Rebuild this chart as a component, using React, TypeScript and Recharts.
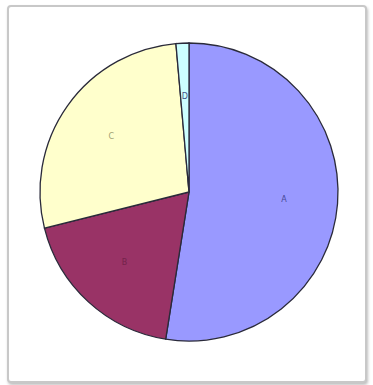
import { PieChart, Pie, Cell } from "recharts";

const categories = ["A", "B", "C", "D"];
const values = [52.5, 18.6, 27.5, 1.4];
const colors = ["#9999FF", "#993366", "#FFFFCC", "#CCFFFF"];
const labelColors = ["#33337a", "#6b1f45", "#8a8a60", "#22226a"];

const data = categories.map((name, i) => ({ name, value: values[i] }));

const RAD = Math.PI / 180;

function renderLabel(props: any) {
  const { cx, cy, midAngle, outerRadius, index, name } = props;
  const r = outerRadius * 0.64;
  const x = cx + r * Math.cos(-midAngle * RAD);
  const y = cy + r * Math.sin(-midAngle * RAD);
  return (
    <text
      x={x}
      y={y}
      fill={labelColors[index]}
      fontSize={8}
      fontFamily="DejaVu Sans"
      textAnchor="middle"
      dominantBaseline="central"
      opacity={0.8}
    >
      {name}
    </text>
  );
}

export default function App() {
  return (
    <div style={{ position: "fixed", left: 0, top: 0, width: 373, height: 385, background: "#fff" }}>
      <div
        style={{
          position: "absolute",
          left: 7,
          top: 5,
          width: 356,
          height: 374,
          border: "2px solid #c8c8c8",
          borderRadius: 4,
          boxShadow: "1px 2px 3px rgba(0,0,0,0.25)",
          background: "#fff",
        }}
      />
      <div style={{ position: "absolute", left: 0, top: 0 }}>
        <PieChart width={373} height={385} margin={{ top: 0, right: 0, bottom: 0, left: 0 }}>
          <Pie
            data={data}
            dataKey="value"
            nameKey="name"
            cx={189}
            cy={192}
            outerRadius={149}
            startAngle={90}
            endAngle={-270}
            stroke="#2a2a3a"
            strokeWidth={1.3}
            label={renderLabel}
            labelLine={false}
            isAnimationActive={false}
          >
            {data.map((d, i) => (
              <Cell key={d.name} fill={colors[i]} />
            ))}
          </Pie>
        </PieChart>
      </div>
    </div>
  );
}
